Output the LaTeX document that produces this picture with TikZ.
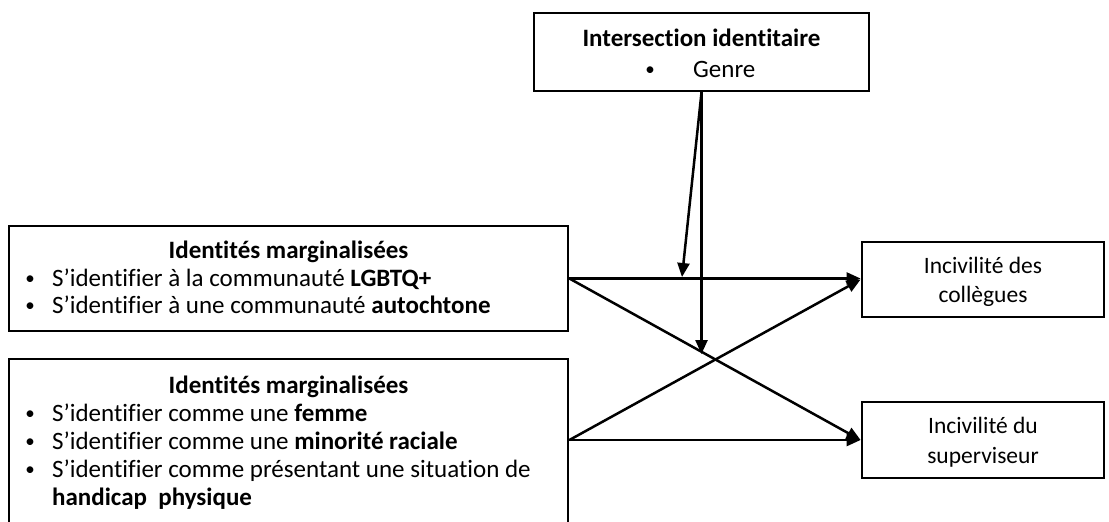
\documentclass[tikz,border=0pt]{standalone}
\usepackage{fontspec}
\setmainfont{Carlito}[Ligatures=NoCommon]
\usetikzlibrary{arrows.meta}
\begin{document}
\begin{tikzpicture}[x=1pt,y=-1pt,
  box/.style={draw, line width=2.8pt, inner sep=0pt},
  txt/.style={inner sep=0pt, anchor=base, font=\fontsize{25}{29}\selectfont},
  ltxt/.style={txt, anchor=base west},
  btxt/.style={txt, font=\fontsize{25}{29}\selectfont\bfseries},
  otxt/.style={txt, font=\fontsize{23.5}{28}\selectfont},
  bul/.style={inner sep=0pt, anchor=center, font=\fontsize{19}{22}\selectfont},
  link/.style={line width=2.5pt, -{Triangle[length=14pt,width=12pt]}},
]
\useasboundingbox (0,0) rectangle (1109,522);

% boxes
\node[box, minimum width=335pt, minimum height=78pt] (mod) at (701.5,52) {};
\node[box, minimum width=559pt, minimum height=105pt] (m1) at (288.5,278.5) {};
\node[box, minimum width=559pt, minimum height=181pt] (m2) at (288.5,449.5) {};
\node[box, minimum width=242pt, minimum height=75pt] (col) at (983,279.5) {};
\node[box, minimum width=242pt, minimum height=76pt] (sup) at (983,440) {};

% moderator box text
\node[btxt] (modT) at (701.5,46) {Intersection identitaire};
\node[bul] (modB) at (650,71) {•};
\node[ltxt] (modG) at (693,77) {Genre};

% first group of identities
\node[btxt] (m1T) at (288.5,258) {Identités marginalisées};
\node[bul] (m1b1) at (30,280) {•};
\node[ltxt] (m1l1) at (52,286) {S’identifier à la communauté \textbf{LGBTQ+}};
\node[bul] (m1b2) at (30,307) {•};
\node[ltxt] (m1l2) at (52,313) {S’identifier à une communauté \textbf{autochtone}};

% second group of identities
\node[btxt] (m2T) at (288.5,393) {Identités marginalisées};
\node[bul] (m2b1) at (30,415) {•};
\node[ltxt] (m2l1) at (52,421) {S’identifier comme une \textbf{femme}};
\node[bul] (m2b2) at (30,443) {•};
\node[ltxt] (m2l2) at (52,449) {S’identifier comme une \textbf{minorité raciale}};
\node[bul] (m2b3) at (30,471) {•};
\node[ltxt] (m2l3) at (52,477) {S’identifier comme présentant une situation de};
\node[ltxt] (m2l4) at (52,505) {\textbf{handicap\ \ physique}};

% outcomes
\node[otxt] (colA) at (983,273) {Incivilité des};
\node[otxt] (colB) at (983,302) {collègues};
\node[otxt] (supA) at (983,433) {Incivilité du};
\node[otxt] (supB) at (983,463) {superviseur};

% paths
\coordinate (m2out) at (m2.east |- sup.west);
\draw[link] (m1.east) -- (m1.east -| col.west);
\draw[link] (m1.east) -- (sup.west);
\draw[link] (m2out) -- (col.west);
\draw[link] (m2out) -- (sup.west);

% moderation arrows
\coordinate (tipA) at (682,277);
\coordinate (tipB) at (701.5,354);
\draw[link] (mod.south) -- (tipA);
\draw[link] (mod.south) -- (tipB);
\end{tikzpicture}
\end{document}
